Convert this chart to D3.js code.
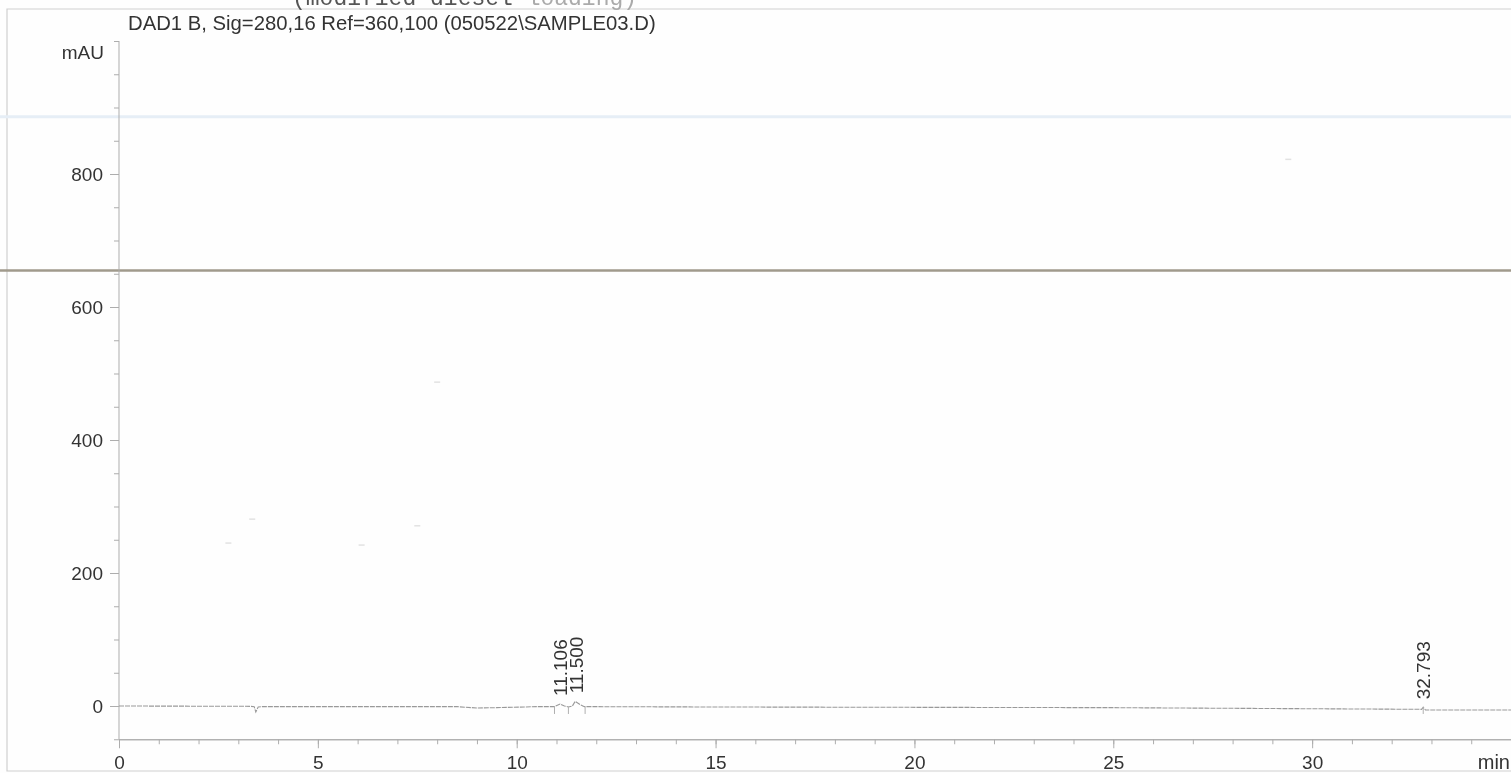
<!DOCTYPE html>
<html>
<head>
<meta charset="utf-8">
<script src="https://cdn.jsdelivr.net/npm/d3@7"></script>
<style>
    html, body { margin: 0; padding: 0; background: #fefefe; overflow: hidden; }
    svg { display: block; filter: blur(0.35px); }
    text { font-family: "Liberation Sans", Arial, sans-serif; fill: #333; }
    .axis path, .axis line { stroke: #adadad; }
    .axis text { font-size: 19px; font-family: "Liberation Sans", Arial, sans-serif; fill: #333; }
</style>
</head>
<body>
<div id="chart"></div>
<script>
(function () {
    "use strict";

    const signalTitle = "DAD1 B, Sig=280,16 Ref=360,100 (050522\\SAMPLE03.D)";
    const clippedHeading = "(modified diesel ";
    const clippedHeadingFaded = "loading)";

    const xMajorTicks = [0, 5, 10, 15, 20, 25, 30];
    const xMinorTicks = d3.range(0, 35);
    const yMajorTicks = [0, 200, 400, 600, 800];
    const yMinorTicks = [-50, 50, 100, 150, 250, 300, 350, 450, 500, 550, 650, 700, 750, 850, 900, 950, 1000];

    // trace, min / mAU
    const traceTime = [0, 3.3, 3.4, 3.44, 3.5, 3.6, 8.5, 9, 9.5, 10.5, 10.95, 11.09, 11.2, 11.3, 11.4, 11.47, 11.6, 11.7, 12, 15, 25, 32.7, 32.75, 32.793, 32.85, 35];
    const traceValue = [0, -0.5, -1, -9, -1.5, -1, -1, -3, -2.5, -1, -1, 3, 0, -1.5, 0, 7, 2, -1, -1, -1.5, -2.5, -5, -5, -2, -6, -6];

    const peakTimes = [11.106, 11.5, 32.793];
    const peakApex = [3, 7, -2];
    const peakEnds = [10.95, 11.3, 11.72, 32.793];

    // marks of the scan: two streaks across the page and some dust
    const streakValues = [886, 655];
    const streakColors = ["#e6eef6", "#a09a8c"];
    const streakWidths = [3, 2.5];
    const dustTime = [29.4, 8.0, 3.35, 7.5, 6.1, 2.75];
    const dustValue = [822, 487, 281, 271, 242, 245];

    const width = 1511;
    const height = 773;

    const x = d3.scaleLinear().domain([0, 35]).range([119, 1511]);
    const y = d3.scaleLinear().domain([0, 800]).range([706, 174]);

    const svg = d3.select("#chart").append("svg")
        .attr("width", width)
        .attr("height", height);

    // page frame
    svg.append("path")
        .attr("d", "M1511,9H7V771H1511")
        .attr("fill", "none")
        .attr("stroke", "#cfcfcf")
        .attr("stroke-width", 1.2);

    svg.selectAll(".streak")
        .data(streakValues)
        .join("line")
        .attr("class", "streak")
        .attr("x1", 0)
        .attr("x2", width)
        .attr("y1", d => y(d))
        .attr("y2", d => y(d))
        .attr("stroke", (d, i) => streakColors[i])
        .attr("stroke-width", (d, i) => streakWidths[i]);

    svg.selectAll(".dust")
        .data(dustTime)
        .join("line")
        .attr("class", "dust")
        .attr("x1", d => x(d) - 3)
        .attr("x2", d => x(d) + 3)
        .attr("y1", (d, i) => y(dustValue[i]))
        .attr("y2", (d, i) => y(dustValue[i]))
        .attr("stroke", "#e2e2e2")
        .attr("stroke-width", 1.5);

    const bottomY = y(-50);

    // minor ticks first, the labelled axes go on top
    svg.append("g")
        .attr("class", "axis")
        .attr("transform", `translate(0,${bottomY})`)
        .call(d3.axisBottom(x).tickValues(xMinorTicks).tickSize(5).tickFormat(""));

    svg.append("g")
        .attr("class", "axis")
        .attr("transform", `translate(0,${bottomY})`)
        .call(d3.axisBottom(x).tickValues(xMajorTicks).tickSize(9).tickSizeOuter(0).tickPadding(6))
        .call(g => g.selectAll("text").attr("dy", "0.78em"));

    svg.append("g")
        .attr("class", "axis")
        .attr("transform", `translate(${x(0)},0)`)
        .call(d3.axisLeft(y).tickValues(yMinorTicks).tickSize(5).tickFormat(""))
        .call(g => g.select(".domain").remove());

    svg.append("g")
        .attr("class", "axis")
        .attr("transform", `translate(${x(0)},0)`)
        .call(d3.axisLeft(y).tickValues(yMajorTicks).tickSize(9).tickSizeOuter(0).tickPadding(7))
        .call(g => g.select(".domain").attr("d", `M0,${y(1000)}V${bottomY}`));

    const line = d3.line()
        .x(d => x(d))
        .y((d, i) => y(traceValue[i]));

    svg.append("path")
        .attr("d", line(traceTime))
        .attr("fill", "none")
        .attr("stroke", "#999")
        .attr("stroke-width", 1.1)
        .attr("stroke-dasharray", "5 1");

    svg.selectAll(".peak-end")
        .data(peakEnds)
        .join("line")
        .attr("class", "peak-end")
        .attr("x1", d => x(d))
        .attr("x2", d => x(d))
        .attr("y1", y(-1))
        .attr("y2", y(-12))
        .attr("stroke", "#b0b0b0");

    svg.selectAll(".peak-label")
        .data(peakTimes)
        .join("text")
        .attr("class", "peak-label")
        .attr("transform", (d, i) => `translate(${x(d)},${y(peakApex[i]) - 8}) rotate(-90)`)
        .attr("dy", "0.35em")
        .attr("font-size", 19)
        .text(d => d3.format(".3f")(d));

    svg.append("text")
        .attr("x", 128)
        .attr("y", 30)
        .attr("font-size", 20.3)
        .text(signalTitle);

    const heading = svg.append("text")
        .attr("x", 292)
        .attr("y", 5)
        .attr("font-size", 23)
        .style("font-family", "'Liberation Mono', monospace")
        .style("fill", "#555");
    heading.append("tspan").text(clippedHeading);
    heading.append("tspan").style("fill", "#aaa").text(clippedHeadingFaded);

    svg.append("text")
        .attr("x", 104)
        .attr("y", 59)
        .attr("text-anchor", "end")
        .attr("font-size", 19)
        .text("mAU");

    svg.append("text")
        .attr("x", 1510)
        .attr("y", 769)
        .attr("text-anchor", "end")
        .attr("font-size", 20)
        .text("min");
}());
</script>
</body>
</html>
